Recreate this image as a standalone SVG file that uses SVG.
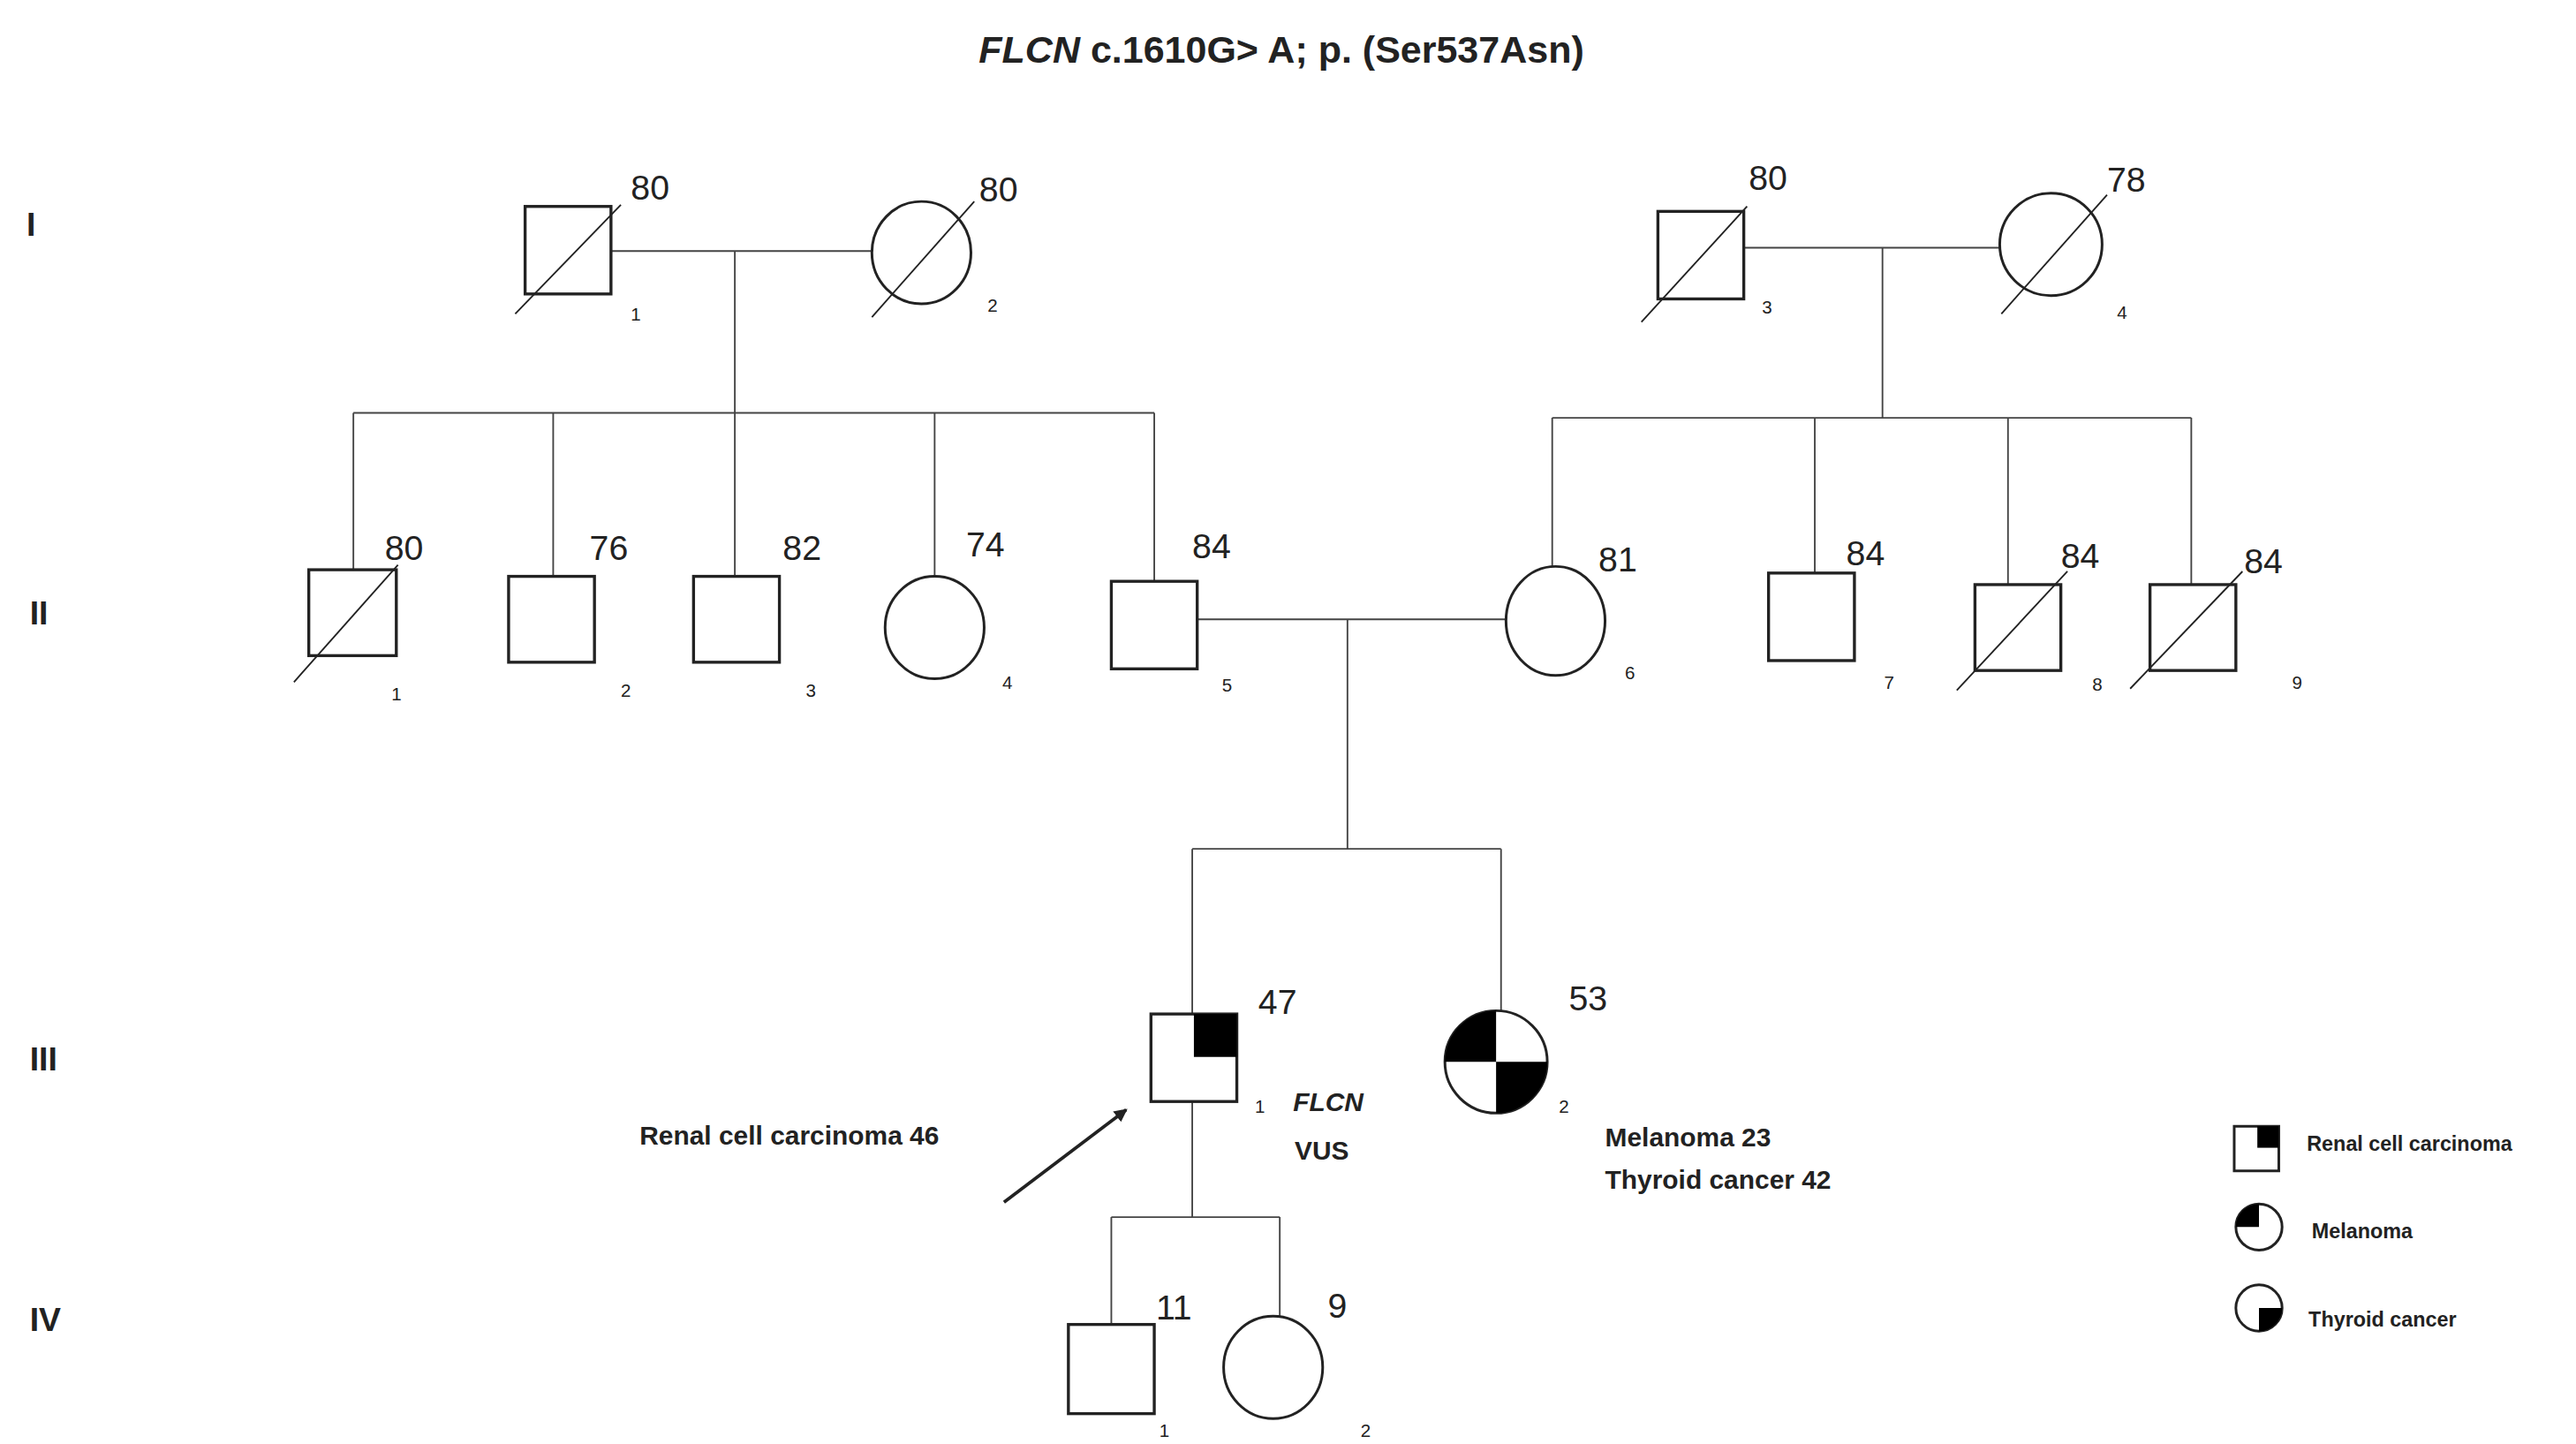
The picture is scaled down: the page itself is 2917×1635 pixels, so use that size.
<svg xmlns="http://www.w3.org/2000/svg" width="2917" height="1635" viewBox="0 0 2917 1635">
<style>
.sq{fill:#fff;stroke:#222;stroke-width:1.8}
.ci{fill:#fff;stroke:#222;stroke-width:1.6}
.ln{stroke:#444;stroke-width:1;fill:none}
.sl{stroke:#222;stroke-width:1}
.age{font-family:"Liberation Sans",Arial,sans-serif;font-size:21px;fill:#222}
.num{font-family:"Liberation Sans",Arial,sans-serif;font-size:11px;fill:#222}
.gen{font-family:"Liberation Sans",Arial,sans-serif;font-size:20px;font-weight:bold;fill:#222}
.lab{font-family:"Liberation Sans",Arial,sans-serif;font-size:16px;font-weight:bold;fill:#222}
.leg{font-family:"Liberation Sans",Arial,sans-serif;font-size:12.5px;font-weight:bold;fill:#222}
</style>
<defs><marker id="ah" markerWidth="8" markerHeight="8" refX="7" refY="4" orient="auto" markerUnits="userSpaceOnUse"><path d="M0,0 L8,4 L0,8 z" fill="#222"/></marker></defs>
<rect width="2917" height="1635" fill="#fff"/>
<g transform="scale(1.8699)">
<text x="776" y="38" text-anchor="middle" font-family="'Liberation Sans',Arial,sans-serif" font-size="23" font-weight="bold" fill="#222"><tspan font-style="italic">FLCN</tspan> c.1610G&gt; A; p. (Ser537Asn)</text>
<text class="gen" x="16" y="143">I</text>
<text class="gen" x="18" y="378">II</text>
<text class="gen" x="18" y="648">III</text>
<text class="gen" x="18" y="806">IV</text>
<g id="connectors">
<path class="ln" d="M370,152 H528 M445,152 V250 M214,250 H699 M214,250 V345 M335,250 V349 M445,250 V349 M566,250 V349 M699,250 V352"/>
<path class="ln" d="M1056,150 H1212 M1140,150 V253 M940,253 H1327 M940,253 V343 M1099,253 V347 M1216,253 V354 M1327,253 V354"/>
<path class="ln" d="M725,375 H912 M816,375 V514 M722,514 H909 M722,514 V614 M909,514 V612"/>
<path class="ln" d="M722,667 V737 M673,737 H775 M673,737 V802 M775,737 V797"/>
<line x1="608" y1="728" x2="682" y2="672" stroke="#222" stroke-width="2" marker-end="url(#ah)"/>
</g>
<g id="I-1"><rect class="sq" x="318" y="125" width="52" height="53"/><line class="sl" x1="312" y1="190" x2="376" y2="124"/><text class="age" x="382" y="121">80</text><text class="num" x="382" y="194">1</text></g>
<g id="I-2"><ellipse class="ci" cx="558" cy="153" rx="30" ry="31"/><line class="sl" x1="528" y1="192" x2="590" y2="122"/><text class="age" x="593" y="122">80</text><text class="num" x="598" y="189">2</text></g>
<g id="I-3"><rect class="sq" x="1004" y="128" width="52" height="53"/><line class="sl" x1="994" y1="195" x2="1058" y2="125"/><text class="age" x="1059" y="115">80</text><text class="num" x="1067" y="190">3</text></g>
<g id="I-4"><ellipse class="ci" cx="1242" cy="148" rx="31" ry="31"/><line class="sl" x1="1212" y1="190" x2="1276" y2="118"/><text class="age" x="1276" y="116">78</text><text class="num" x="1282" y="193">4</text></g>
<g id="II-1"><rect class="sq" x="187" y="345" width="53" height="52"/><line class="sl" x1="178" y1="413" x2="241" y2="342"/><text class="age" x="233" y="339">80</text><text class="num" x="237" y="424">1</text></g>
<g id="II-2"><rect class="sq" x="308" y="349" width="52" height="52"/><text class="age" x="357" y="339">76</text><text class="num" x="376" y="422">2</text></g>
<g id="II-3"><rect class="sq" x="420" y="349" width="52" height="52"/><text class="age" x="474" y="339">82</text><text class="num" x="488" y="422">3</text></g>
<g id="II-4"><ellipse class="ci" cx="566" cy="380" rx="30" ry="31"/><text class="age" x="585" y="337">74</text><text class="num" x="607" y="417">4</text></g>
<g id="II-5"><rect class="sq" x="673" y="352" width="52" height="53"/><text class="age" x="722" y="338">84</text><text class="num" x="740" y="419">5</text></g>
<g id="II-6"><ellipse class="ci" cx="942" cy="376" rx="30" ry="33"/><text class="age" x="968" y="346">81</text><text class="num" x="984" y="411">6</text></g>
<g id="II-7"><rect class="sq" x="1071" y="347" width="52" height="53"/><text class="age" x="1118" y="342">84</text><text class="num" x="1141" y="417">7</text></g>
<g id="II-8"><rect class="sq" x="1196" y="354" width="52" height="52"/><line class="sl" x1="1185" y1="418" x2="1252" y2="346"/><text class="age" x="1248" y="344">84</text><text class="num" x="1267" y="418">8</text></g>
<g id="II-9"><rect class="sq" x="1302" y="354" width="52" height="52"/><line class="sl" x1="1290" y1="417" x2="1358" y2="346"/><text class="age" x="1359" y="347">84</text><text class="num" x="1388" y="417">9</text></g>
<g id="III-1"><rect class="sq" x="697" y="614" width="52" height="53"/><rect x="723" y="614" width="26" height="26" fill="#000"/><text class="age" x="762" y="614">47</text><text class="num" x="760" y="674">1</text><text class="lab" x="783" y="673" font-style="italic">FLCN</text><text class="lab" x="784" y="702">VUS</text></g>
<g id="III-2"><circle class="ci" cx="906" cy="643" r="31"/><path d="M906,643 V612 A31,31 0 0,0 875,643 Z M906,643 V674 A31,31 0 0,0 937,643 Z" fill="#000"/><text class="age" x="950" y="612">53</text><text class="num" x="944" y="674">2</text><text class="lab" x="972" y="694">Melanoma 23</text><text class="lab" x="972" y="720">Thyroid cancer 42</text></g>
<text class="lab" x="478" y="693" text-anchor="middle">Renal cell carcinoma 46</text>
<g id="IV-1"><rect class="sq" x="647" y="802" width="52" height="54"/><text class="age" x="700" y="799">11</text><text class="num" x="702" y="870">1</text></g>
<g id="IV-2"><ellipse class="ci" cx="771" cy="828" rx="30" ry="31"/><text class="age" x="804" y="798">9</text><text class="num" x="824" y="870">2</text></g>
<g id="legend">
<rect x="1353" y="682" width="27" height="27" fill="#fff" stroke="#222" stroke-width="1.6"/><rect x="1367" y="682" width="13" height="13" fill="#000"/>
<text class="leg" x="1397" y="697">Renal cell carcinoma</text>
<circle cx="1368" cy="743" r="14" fill="#fff" stroke="#222" stroke-width="1.6"/><path d="M1368,743 V729 A14,14 0 0,0 1354,743 Z" fill="#000"/>
<text class="leg" x="1400" y="750">Melanoma</text>
<circle cx="1368" cy="792" r="14" fill="#fff" stroke="#222" stroke-width="1.6"/><path d="M1368,792 V806 A14,14 0 0,0 1382,792 Z" fill="#000"/>
<text class="leg" x="1398" y="803">Thyroid cancer</text>
</g>
</g>
</svg>
